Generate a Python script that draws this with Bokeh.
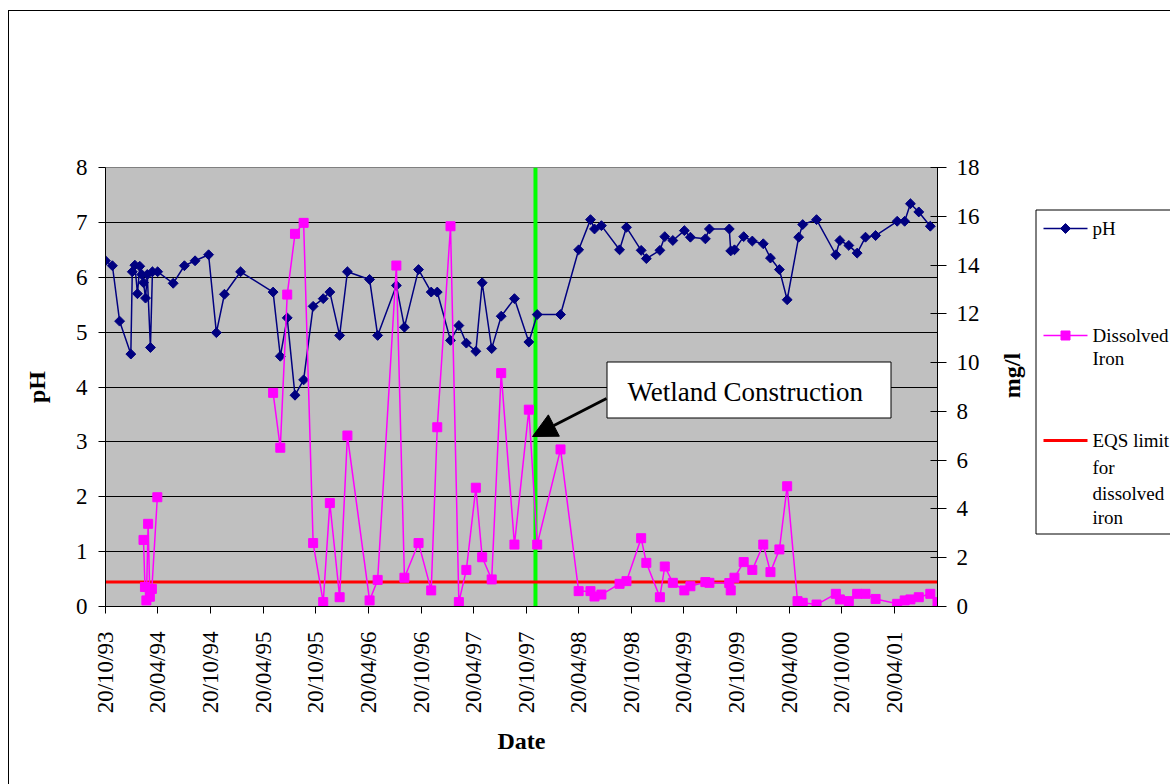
import numpy as np
import pandas as pd
from bokeh.plotting import figure
from bokeh.layouts import row
from bokeh.core.properties import value
from bokeh.models import (Range1d, LinearAxis, FixedTicker, DatetimeTickFormatter, Span,
                          Label, BoxAnnotation, Arrow, NormalHead)
from bokeh.embed import file_html
from bokeh.resources import INLINE

# ---------------- data ----------------
PH_DATES = [
    "1993-10-20", "1993-11-13", "1993-12-08", "1994-01-16", "1994-01-21", "1994-01-30",
    "1994-02-08", "1994-02-16", "1994-02-23", "1994-03-01", "1994-03-08", "1994-03-14",
    "1994-03-25", "1994-04-01", "1994-04-19",
    "1994-06-12", "1994-07-21", "1994-08-27", "1994-10-13", "1994-11-09", "1994-12-07", "1995-02-01",
    "1995-05-25", "1995-06-19", "1995-07-13", "1995-08-09", "1995-09-08", "1995-10-11",
    "1995-11-15", "1995-12-08",
    "1996-01-11", "1996-02-07", "1996-04-24", "1996-05-22", "1996-07-26", "1996-08-23",
    "1996-10-11", "1996-11-24", "1996-12-15",
    "1997-01-30", "1997-02-28", "1997-03-26", "1997-04-28", "1997-05-20", "1997-06-22",
    "1997-07-25", "1997-09-09", "1997-10-29", "1997-11-27",
    "1998-02-16", "1998-04-20", "1998-05-31", "1998-06-14", "1998-07-08", "1998-09-09",
    "1998-10-03", "1998-11-23", "1998-12-11",
    "1999-01-27", "1999-02-13", "1999-03-13", "1999-04-22", "1999-05-13", "1999-07-04",
    "1999-07-18", "1999-09-25", "1999-09-30", "1999-10-13", "1999-11-14", "1999-12-14",
    "2000-01-21", "2000-02-15", "2000-03-17", "2000-04-13", "2000-05-23", "2000-06-06",
    "2000-07-24", "2000-09-29", "2000-10-13", "2000-11-13", "2000-12-12",
    "2001-01-10", "2001-02-14", "2001-04-30", "2001-05-26", "2001-06-15", "2001-07-14", "2001-08-23",
]
PH_VALUES = [
    6.30, 6.21, 5.20, 4.60, 6.10, 6.22, 5.70, 6.20, 6.05, 5.90, 5.62, 6.05, 4.72, 6.10, 6.10,
    5.89, 6.21, 6.30, 6.41, 4.99, 5.69, 6.10,
    5.73, 4.56, 5.26, 3.85, 4.13, 5.47, 5.61, 5.73,
    4.94, 6.10, 5.96, 4.94, 5.85, 5.09, 6.14, 5.73, 5.73,
    4.85, 5.12, 4.80, 4.65, 5.90, 4.70, 5.29, 5.61, 4.82, 5.32,
    5.32, 6.50, 7.05, 6.88, 6.94, 6.50, 6.91, 6.49, 6.34,
    6.49, 6.74, 6.67, 6.85, 6.73, 6.70, 6.88, 6.88, 6.48, 6.50, 6.74, 6.66,
    6.61, 6.35, 6.14, 5.59, 6.73, 6.96, 7.05, 6.41, 6.67, 6.58, 6.44,
    6.73, 6.76, 7.02, 7.02, 7.34, 7.19, 6.93,
]
IRON_DATES = [
    "1994-03-01", "1994-03-06", "1994-03-11", "1994-03-17", "1994-03-23", "1994-03-30", "1994-04-18",
    "1995-05-25", "1995-06-19", "1995-07-13", "1995-08-09", "1995-09-08", "1995-10-11",
    "1995-11-15", "1995-12-08",
    "1996-01-11", "1996-02-07", "1996-04-24", "1996-05-22", "1996-07-26", "1996-08-23",
    "1996-10-11", "1996-11-24", "1996-12-15",
    "1997-01-30", "1997-02-28", "1997-03-26", "1997-04-28", "1997-05-20", "1997-06-22",
    "1997-07-25", "1997-09-09", "1997-10-29", "1997-11-27",
    "1998-02-16", "1998-04-20", "1998-05-31", "1998-06-14", "1998-07-08", "1998-09-09",
    "1998-10-03", "1998-11-23", "1998-12-11",
    "1999-01-27", "1999-02-13", "1999-03-13", "1999-04-22", "1999-05-13", "1999-07-04",
    "1999-07-18", "1999-09-25", "1999-09-30", "1999-10-13", "1999-11-14", "1999-12-14",
    "2000-01-21", "2000-02-15", "2000-03-17", "2000-04-13", "2000-05-19", "2000-06-06",
    "2000-07-24", "2000-09-29", "2000-10-13", "2000-11-13", "2000-12-12",
    "2001-01-10", "2001-02-14", "2001-04-30", "2001-05-26", "2001-06-15", "2001-07-14",
    "2001-08-23", "2001-09-17",
]
IRON_VALUES = [
    2.73, 0.80, 0.25, 3.39, 0.40, 0.72, 4.48,
    8.76, 6.51, 12.79, 15.28, 15.73, 2.60, 0.18, 4.24,
    0.38, 7.01, 0.25, 1.09, 13.98, 1.18, 2.60, 0.66, 7.35,
    15.59, 0.18, 1.50, 4.87, 2.02, 1.11, 9.57, 2.54, 8.07, 2.54,
    6.44, 0.63, 0.63, 0.41, 0.49, 0.93, 1.04, 2.80, 1.79,
    0.38, 1.64, 0.97, 0.66, 0.83, 1.00, 0.97, 0.96, 0.66, 1.18, 1.82, 1.50,
    2.54, 1.41, 2.34, 4.93, 0.22, 0.15, 0.08, 0.52, 0.29, 0.22, 0.52,
    0.52, 0.31, 0.11, 0.25, 0.29, 0.38, 0.52, 0.18,
]
EQS_LIMIT = 1.0
WETLAND_DATE = "1997-11-21"
WETLAND_TEXT = "Wetland Construction"
X_START = "1993-10-20"
X_END = "2001-09-17"
TICK_DATES = [
    "1993-10-20", "1994-04-20", "1994-10-20", "1995-04-20", "1995-10-20", "1996-04-20",
    "1996-10-20", "1997-04-20", "1997-10-20", "1998-04-20", "1998-10-20", "1999-04-20",
    "1999-10-20", "2000-04-20", "2000-10-20", "2001-04-20",
]
PH_TICKS = [0, 1, 2, 3, 4, 5, 6, 7, 8]
MGL_TICKS = [0, 2, 4, 6, 8, 10, 12, 14, 16, 18]
LEGEND_LINES = [["pH"], ["Dissolved", "Iron"], ["EQS limit", "for", "dissolved", "iron"]]
GAP_DAYS = 300   # no sampling for longer than this -> the line is broken (empty cells)


def ms(d):
    return float(pd.Timestamp(d).value // 10**6)


def broken_line(dates, values):
    """Insert a NaN wherever the sampling has a long gap, so the line breaks there."""
    xs, ys = [], []
    dts = pd.to_datetime(dates)
    for i, (d, v) in enumerate(zip(dts, values)):
        if i > 0 and (d - dts[i - 1]).days > GAP_DAYS:
            xs.append(d)
            ys.append(np.nan)
        xs.append(d)
        ys.append(v)
    return xs, ys


ph_x = pd.to_datetime(PH_DATES)
iron_x = pd.to_datetime(IRON_DATES)
ph_lx, ph_ly = broken_line(PH_DATES, PH_VALUES)
iron_lx, iron_ly = broken_line(IRON_DATES, IRON_VALUES)

# ---------------- style ----------------
FONT = "Liberation Serif"
NAVY, MAGENTA, RED, GREEN = "#000080", "#FF00FF", "#FF0000", "#00FF00"
FL, FB = 105, 606   # frame left / bottom in page pixels


def sx(X):
    return X - FL


def sy(Y):
    return FB - Y


# main chart: page x 9..995, y 11..784
p = figure(width=986, height=773, x_axis_type="datetime",
           x_range=Range1d(ms(X_START), ms(X_END)), y_range=Range1d(0, 8),
           output_backend="svg", toolbar_location=None,
           min_border_left=96, min_border_right=58, min_border_top=156, min_border_bottom=178,
           background_fill_color="#C0C0C0", border_fill_color="white",
           outline_line_color="#808080")
p.extra_y_ranges = {"iron": Range1d(0, 18)}

p.xgrid.visible = False
p.ygrid.ticker = FixedTicker(ticks=PH_TICKS[1:-1])
p.ygrid.grid_line_color = "black"
p.ygrid.grid_line_width = 1


def style_axis(ax, standoff, tick_in=0, tick_out=7):
    ax.major_tick_in = tick_in
    ax.major_tick_out = tick_out
    ax.minor_tick_line_color = None
    ax.axis_line_color = "black"
    ax.major_tick_line_color = "black"
    ax.major_label_text_font = FONT
    ax.major_label_text_font_size = "23px"
    ax.major_label_text_color = "black"
    ax.major_label_standoff = standoff
    ax.axis_label_text_font = FONT
    ax.axis_label_text_font_style = "bold"
    ax.axis_label_text_font_size = "24px"
    ax.axis_label_text_color = "black"


yax = p.yaxis[0]
yax.ticker = FixedTicker(ticks=PH_TICKS)
style_axis(yax, 11)
yax.axis_label = "pH"
yax.axis_label_standoff = 23

xax = p.xaxis[0]
xax.ticker = FixedTicker(ticks=[ms(d) for d in TICK_DATES])
fmt = "%d/%m/%y"
xax.formatter = DatetimeTickFormatter(days=fmt, months=fmt, years=fmt, hours=fmt, hourmin=fmt,
                                      minutes=fmt, minsec=fmt, seconds=fmt)
xax.major_label_orientation = np.pi / 2
style_axis(xax, 18)
xax.axis_label = "Date"
xax.axis_label_standoff = 12

rax = LinearAxis(y_range_name="iron", ticker=FixedTicker(ticks=MGL_TICKS))
style_axis(rax, 10, tick_in=7, tick_out=9)
p.add_layout(rax, "right")

# wetland construction vertical line
p.add_layout(Span(location=ms(WETLAND_DATE), dimension="height", line_color=GREEN,
                  line_width=4, level="underlay"))

# data series
p.line(ph_lx, ph_ly, line_color=NAVY, line_width=1.5)
p.scatter(ph_x, PH_VALUES, marker="square", angle=np.pi / 4, size=7,
          fill_color=NAVY, line_color=NAVY)
p.line([ms(X_START), ms(X_END)], [EQS_LIMIT, EQS_LIMIT], y_range_name="iron",
       line_color=RED, line_width=3)
p.line(iron_lx, iron_ly, y_range_name="iron", line_color=MAGENTA, line_width=1.5)
p.scatter(iron_x, IRON_VALUES, y_range_name="iron", marker="square", size=9,
          fill_color=MAGENTA, line_color=MAGENTA)

SCR = dict(left_units="screen", right_units="screen", top_units="screen", bottom_units="screen")

# annotation box + arrow
p.add_layout(BoxAnnotation(left=sx(606.5), right=sx(890.5), top=sy(361.5), bottom=sy(417.5),
                           fill_color="white", fill_alpha=1, line_color="black", line_width=1,
                           line_alpha=1, **SCR))
p.add_layout(Label(x=sx(627), y=sy(391), x_units="screen", y_units="screen",
                   text=WETLAND_TEXT, text_baseline="middle", text_font=FONT,
                   text_font_size="27px", text_color="black"))
p.add_layout(Arrow(end=NormalHead(size=24, fill_color="black", line_color="black"),
                   x_start=sx(606), y_start=sy(398), x_end=sx(532), y_end=sy(436),
                   start_units="screen", end_units="screen", line_width=3, line_color="black"))

# side panel: right axis title and legend.  Its frame is aligned by the row with the
# main frame (page y 167..606), so data coordinates == page pixels.
side = figure(width=175, height=773, x_range=Range1d(995, 1170), y_range=Range1d(606, 167),
              output_backend="svg", toolbar_location=None, min_border=0,
              min_border_left=0, min_border_right=0,
              x_axis_location=None, y_axis_location=None,
              background_fill_color="white", border_fill_color="white", outline_line_color=None)
side.grid.visible = False

side.text(x=[1011], y=[375], text=["mg/l"], angle=np.pi / 2, text_align="center",
          text_baseline="middle", text_font=value(FONT), text_font_style="bold",
          text_font_size="24px", text_color="black")

side.quad(left=[1035.5], right=[1200], top=[209.5], bottom=[533.5],
          fill_color="white", line_color="black", line_width=1)
side.segment(x0=[1043], y0=[228], x1=[1087], y1=[228], line_color=NAVY, line_width=1.5)
side.scatter([1065], [228], marker="square", angle=np.pi / 4, size=7,
             fill_color=NAVY, line_color=NAVY)
side.segment(x0=[1043], y0=[335], x1=[1087], y1=[335], line_color=MAGENTA, line_width=1.5)
side.scatter([1065], [335], marker="square", size=9, fill_color=MAGENTA, line_color=MAGENTA)
side.segment(x0=[1043], y0=[440], x1=[1087], y1=[440], line_color=RED, line_width=3)

legend_rows = [228, 335, 358, 440, 467, 493, 517]
texts = [t for grp in LEGEND_LINES for t in grp]
side.text(x=[1092] * len(texts), y=legend_rows, text=texts, text_baseline="middle",
          text_font=value(FONT), text_font_size="19px", text_color="black")

layout = row(p, side, styles={"margin-left": "8px", "margin-top": "10px",
                              "border-left": "1px solid black", "border-top": "1px solid black"})

open("out.html", "w").write(file_html(layout, INLINE))
